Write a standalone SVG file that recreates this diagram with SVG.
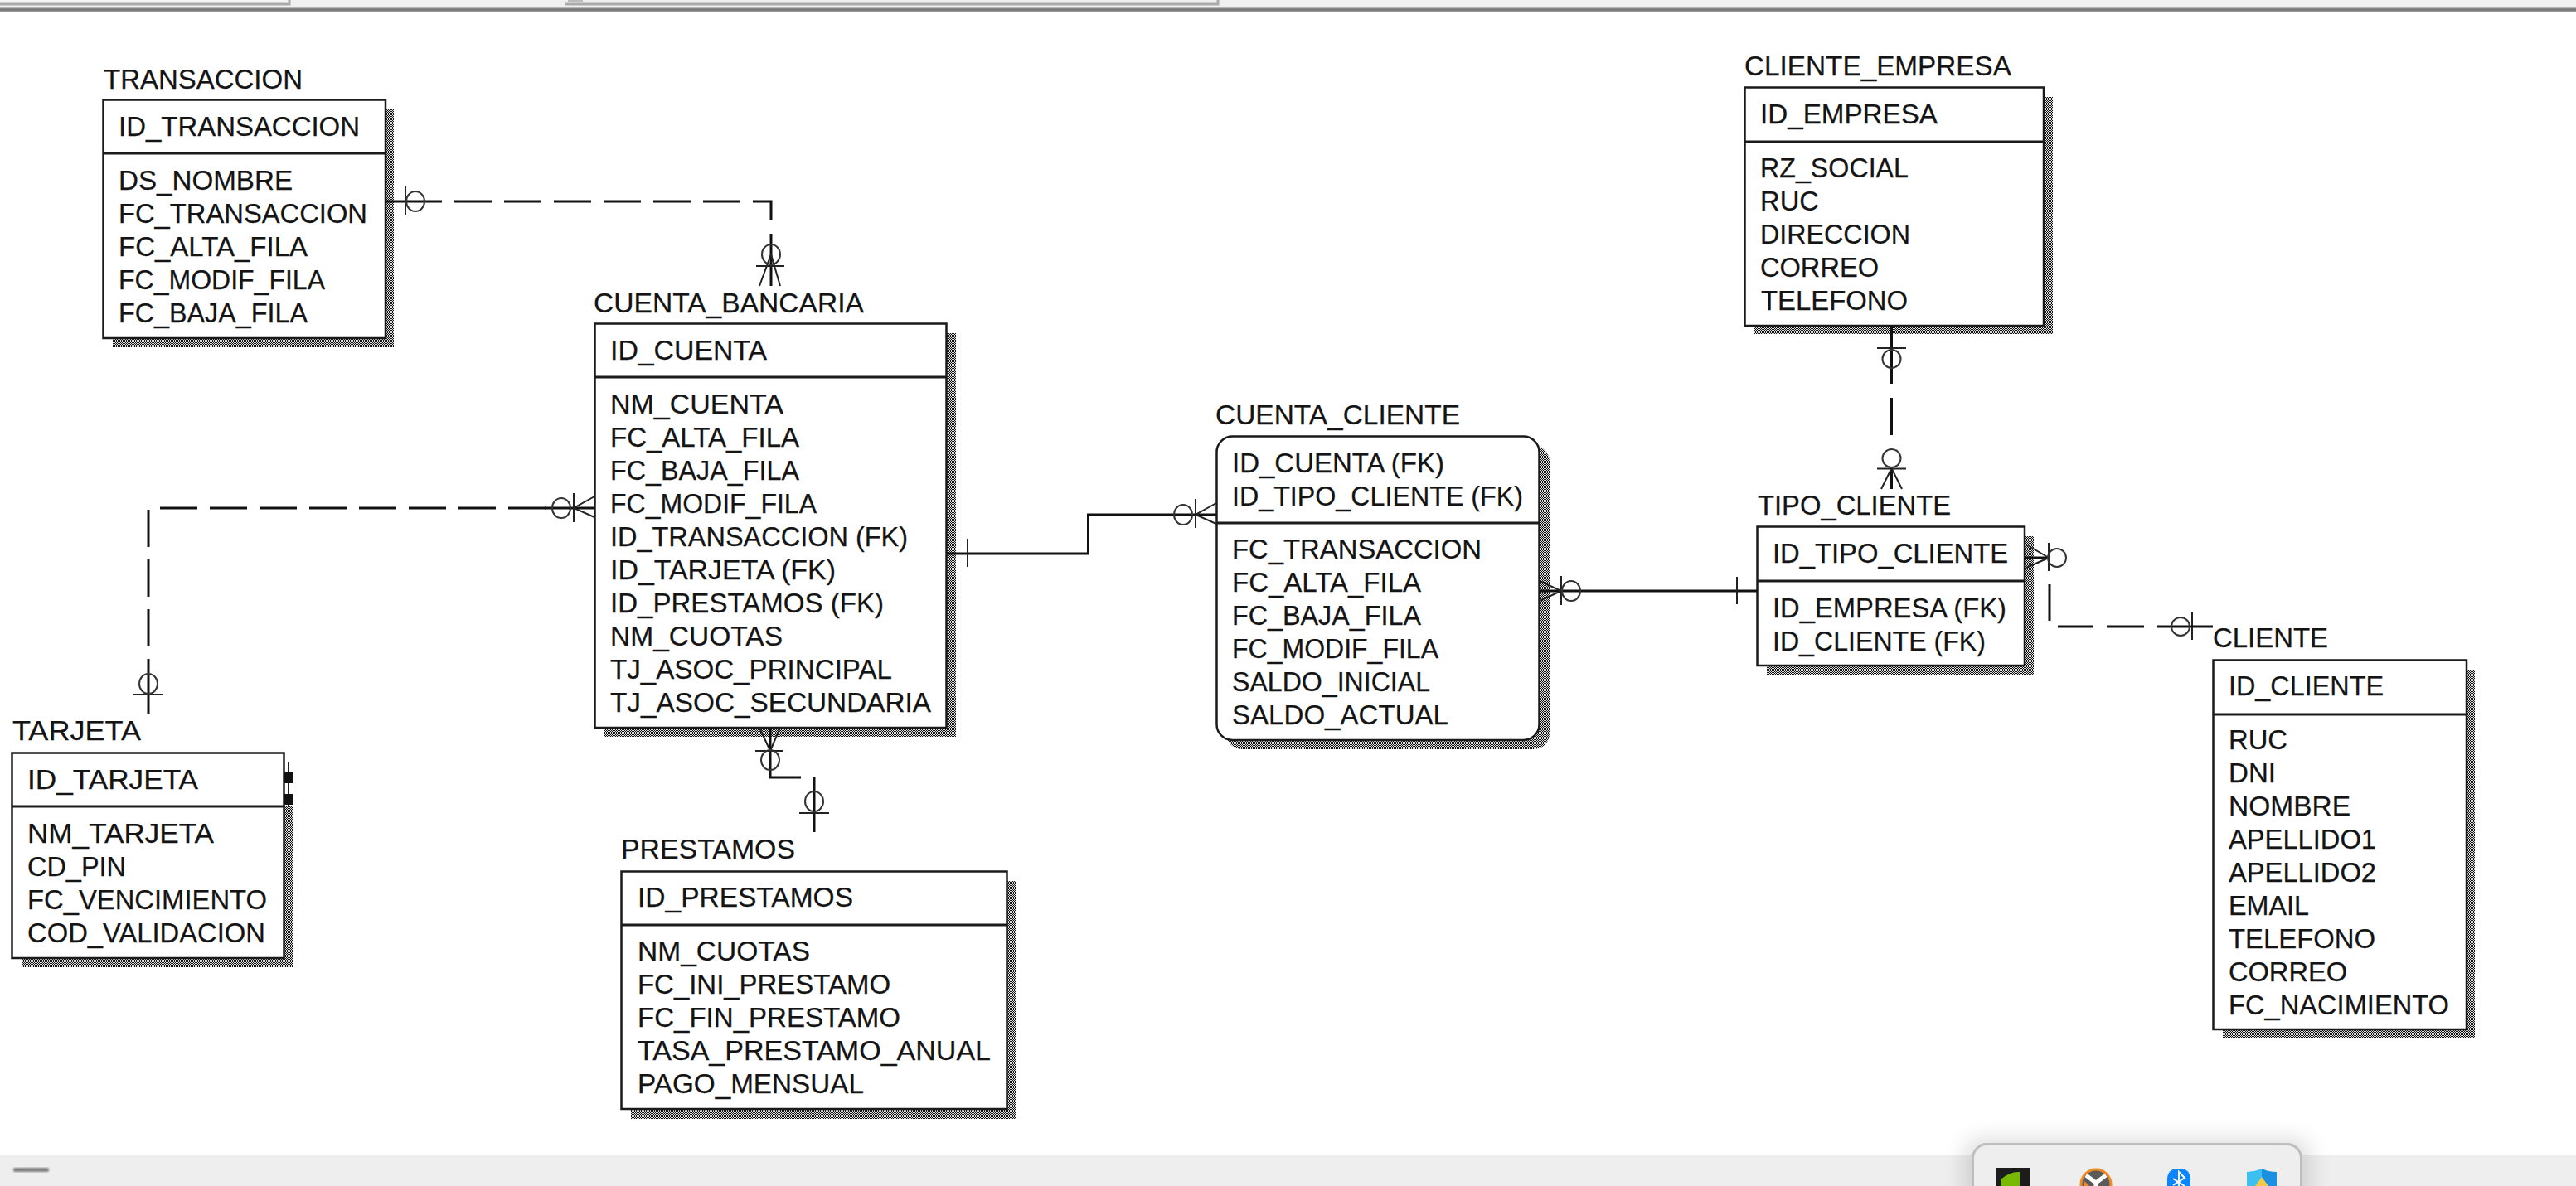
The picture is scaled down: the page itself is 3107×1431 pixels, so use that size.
<svg xmlns="http://www.w3.org/2000/svg" width="3107" height="1431" viewBox="0 0 3107 1431">
<defs>
<style>
text{font-family:"Liberation Sans",Arial,sans-serif;font-size:33px;fill:#141414;stroke:#141414;stroke-width:.25;lengthAdjust:spacingAndGlyphs}
.box{fill:#fff;stroke:#1a1a1a;stroke-width:2.500}
.div{stroke:#1a1a1a;stroke-width:3;fill:none}
.sh{fill:url(#stip)}
.c{fill:none;stroke:#111;stroke-width:3}
.d{fill:none;stroke:#111;stroke-width:3;stroke-dasharray:45 15}
.t{fill:none;stroke:#222;stroke-width:2}
.o{fill:none;stroke:#333;stroke-width:2}
</style>
<pattern id="stip" width="2" height="2" patternUnits="userSpaceOnUse"><rect width="2" height="2" fill="#ddd"/><rect width="1" height="1" fill="#111"/><rect x="1" y="1" width="1" height="1" fill="#111"/></pattern>
<linearGradient id="bar" x1="0" y1="0" x2="0" y2="1"><stop offset="0" stop-color="#c8c8c8"/><stop offset=".35" stop-color="#707070"/><stop offset=".7" stop-color="#8c8c8c"/><stop offset="1" stop-color="#c4c4c4"/></linearGradient>
<filter id="blur" x="-10%" y="-30%" width="120%" height="160%"><feGaussianBlur stdDeviation="14"/></filter>
<filter id="soft"><feGaussianBlur stdDeviation="1"/></filter>
</defs>
<rect width="3107" height="1431" fill="#fff"/>
<g id="window-top">
<rect width="3107" height="9" fill="#f0f0f0"/>
<rect x="0" y="0" width="349" height="4" fill="#f4f4f4"/>
<path d="M0 5H349V0M682 5H1469V0" fill="none" stroke="#aaa" stroke-width="3"/>
<rect x="685" y="0" width="18" height="2" fill="#bbb"/>
<rect y="9" width="3107" height="6" fill="url(#bar)"/>
</g>
<g id="node-transaccion">
<rect class="sh" x="136" y="132" width="339" height="287"/>
<rect class="box" x="124.500" y="120.500" width="340.500" height="287.500"/>
<path class="div" d="M125 185H465"/>
<text x="125" y="107" textLength="240" lengthAdjust="spacingAndGlyphs">TRANSACCION</text>
<text x="143" y="164" textLength="291" lengthAdjust="spacingAndGlyphs">ID_TRANSACCION</text>
<text x="143" y="229" textLength="210" lengthAdjust="spacingAndGlyphs">DS_NOMBRE</text>
<text x="143" y="269" textLength="300" lengthAdjust="spacingAndGlyphs">FC_TRANSACCION</text>
<text x="143" y="309" textLength="228" lengthAdjust="spacingAndGlyphs">FC_ALTA_FILA</text>
<text x="143" y="349" textLength="249" lengthAdjust="spacingAndGlyphs">FC_MODIF_FILA</text>
<text x="143" y="389" textLength="228" lengthAdjust="spacingAndGlyphs">FC_BAJA_FILA</text>
</g>
<g id="node-cuenta-bancaria">
<rect class="sh" x="729" y="402" width="424" height="487"/>
<rect class="box" x="717.500" y="390.500" width="424" height="487.500"/>
<path class="div" d="M718 455H1142"/>
<text x="716" y="377" textLength="326" lengthAdjust="spacingAndGlyphs">CUENTA_BANCARIA</text>
<text x="736" y="434" textLength="189" lengthAdjust="spacingAndGlyphs">ID_CUENTA</text>
<text x="736" y="499" textLength="209" lengthAdjust="spacingAndGlyphs">NM_CUENTA</text>
<text x="736" y="539" textLength="228" lengthAdjust="spacingAndGlyphs">FC_ALTA_FILA</text>
<text x="736" y="579" textLength="228" lengthAdjust="spacingAndGlyphs">FC_BAJA_FILA</text>
<text x="736" y="619" textLength="249" lengthAdjust="spacingAndGlyphs">FC_MODIF_FILA</text>
<text x="736" y="659" textLength="359" lengthAdjust="spacingAndGlyphs">ID_TRANSACCION (FK)</text>
<text x="736" y="699" textLength="272" lengthAdjust="spacingAndGlyphs">ID_TARJETA (FK)</text>
<text x="736" y="739" textLength="330" lengthAdjust="spacingAndGlyphs">ID_PRESTAMOS (FK)</text>
<text x="736" y="779" textLength="208" lengthAdjust="spacingAndGlyphs">NM_CUOTAS</text>
<text x="736" y="819" textLength="340" lengthAdjust="spacingAndGlyphs">TJ_ASOC_PRINCIPAL</text>
<text x="736" y="859" textLength="387" lengthAdjust="spacingAndGlyphs">TJ_ASOC_SECUNDARIA</text>
</g>
<g id="node-cuenta-cliente">
<rect class="sh" x="1479" y="538" width="390" height="366" rx="19"/>
<rect class="box" x="1467.500" y="526.500" width="389" height="366.500" rx="19"/>
<path class="div" d="M1468 631H1856"/>
<text x="1466" y="512" textLength="295" lengthAdjust="spacingAndGlyphs">CUENTA_CLIENTE</text>
<text x="1486" y="570" textLength="256" lengthAdjust="spacingAndGlyphs">ID_CUENTA (FK)</text>
<text x="1486" y="610" textLength="351" lengthAdjust="spacingAndGlyphs">ID_TIPO_CLIENTE (FK)</text>
<text x="1486" y="674" textLength="301" lengthAdjust="spacingAndGlyphs">FC_TRANSACCION</text>
<text x="1486" y="714" textLength="228" lengthAdjust="spacingAndGlyphs">FC_ALTA_FILA</text>
<text x="1486" y="754" textLength="228" lengthAdjust="spacingAndGlyphs">FC_BAJA_FILA</text>
<text x="1486" y="794" textLength="249" lengthAdjust="spacingAndGlyphs">FC_MODIF_FILA</text>
<text x="1486" y="834" textLength="239" lengthAdjust="spacingAndGlyphs">SALDO_INICIAL</text>
<text x="1486" y="874" textLength="261" lengthAdjust="spacingAndGlyphs">SALDO_ACTUAL</text>
</g>
<g id="node-cliente-empresa">
<rect class="sh" x="2116" y="117" width="360" height="286"/>
<rect class="box" x="2104.500" y="105.500" width="360.500" height="287.500"/>
<path class="div" d="M2105 171H2465"/>
<text x="2104" y="91" textLength="322" lengthAdjust="spacingAndGlyphs">CLIENTE_EMPRESA</text>
<text x="2123" y="149" textLength="214" lengthAdjust="spacingAndGlyphs">ID_EMPRESA</text>
<text x="2123" y="214" textLength="179" lengthAdjust="spacingAndGlyphs">RZ_SOCIAL</text>
<text x="2123" y="254" textLength="71" lengthAdjust="spacingAndGlyphs">RUC</text>
<text x="2123" y="294" textLength="181" lengthAdjust="spacingAndGlyphs">DIRECCION</text>
<text x="2123" y="334" textLength="143" lengthAdjust="spacingAndGlyphs">CORREO</text>
<text x="2124" y="374" textLength="177" lengthAdjust="spacingAndGlyphs">TELEFONO</text>
</g>
<g id="node-tipo-cliente">
<rect class="sh" x="2131" y="647" width="322" height="168"/>
<rect class="box" x="2119.500" y="635.500" width="322.500" height="167.500"/>
<path class="div" d="M2120 701H2442"/>
<text x="2120" y="621" textLength="233" lengthAdjust="spacingAndGlyphs">TIPO_CLIENTE</text>
<text x="2138" y="679" textLength="284" lengthAdjust="spacingAndGlyphs">ID_TIPO_CLIENTE</text>
<text x="2138" y="745" textLength="282" lengthAdjust="spacingAndGlyphs">ID_EMPRESA (FK)</text>
<text x="2138" y="785" textLength="257" lengthAdjust="spacingAndGlyphs">ID_CLIENTE (FK)</text>
</g>
<g id="node-cliente">
<rect class="sh" x="2681" y="808" width="304" height="445"/>
<rect class="box" x="2669.500" y="796.500" width="305.500" height="445.500"/>
<path class="div" d="M2670 862H2975"/>
<text x="2669" y="781" textLength="139" lengthAdjust="spacingAndGlyphs">CLIENTE</text>
<text x="2688" y="839" textLength="187" lengthAdjust="spacingAndGlyphs">ID_CLIENTE</text>
<text x="2688" y="904" textLength="71" lengthAdjust="spacingAndGlyphs">RUC</text>
<text x="2688" y="944" textLength="57" lengthAdjust="spacingAndGlyphs">DNI</text>
<text x="2688" y="984" textLength="147" lengthAdjust="spacingAndGlyphs">NOMBRE</text>
<text x="2688" y="1024" textLength="178" lengthAdjust="spacingAndGlyphs">APELLIDO1</text>
<text x="2688" y="1064" textLength="178" lengthAdjust="spacingAndGlyphs">APELLIDO2</text>
<text x="2688" y="1104" textLength="97" lengthAdjust="spacingAndGlyphs">EMAIL</text>
<text x="2688" y="1144" textLength="177" lengthAdjust="spacingAndGlyphs">TELEFONO</text>
<text x="2688" y="1184" textLength="143" lengthAdjust="spacingAndGlyphs">CORREO</text>
<text x="2688" y="1224" textLength="266" lengthAdjust="spacingAndGlyphs">FC_NACIMIENTO</text>
</g>
<g id="node-tarjeta">
<rect class="sh" x="26" y="972" width="327" height="195"/>
<rect class="box" x="14.500" y="908.500" width="328" height="247.500"/>
<path class="div" d="M15 973H342"/>
<text x="15" y="893" textLength="155" lengthAdjust="spacingAndGlyphs">TARJETA</text>
<text x="33" y="952" textLength="206" lengthAdjust="spacingAndGlyphs">ID_TARJETA</text>
<text x="33" y="1017" textLength="225" lengthAdjust="spacingAndGlyphs">NM_TARJETA</text>
<text x="33" y="1057" textLength="119" lengthAdjust="spacingAndGlyphs">CD_PIN</text>
<text x="33" y="1097" textLength="289" lengthAdjust="spacingAndGlyphs">FC_VENCIMIENTO</text>
<text x="33" y="1137" textLength="287" lengthAdjust="spacingAndGlyphs">COD_VALIDACION</text>
</g>
<g id="node-prestamos">
<rect class="sh" x="761" y="1063" width="465" height="287"/>
<rect class="box" x="749.500" y="1051.500" width="465" height="286.500"/>
<path class="div" d="M750 1116H1214"/>
<text x="749" y="1036" textLength="210" lengthAdjust="spacingAndGlyphs">PRESTAMOS</text>
<text x="769" y="1094" textLength="260" lengthAdjust="spacingAndGlyphs">ID_PRESTAMOS</text>
<text x="769" y="1159" textLength="208" lengthAdjust="spacingAndGlyphs">NM_CUOTAS</text>
<text x="769" y="1199" textLength="305" lengthAdjust="spacingAndGlyphs">FC_INI_PRESTAMO</text>
<text x="769" y="1239" textLength="317" lengthAdjust="spacingAndGlyphs">FC_FIN_PRESTAMO</text>
<text x="769" y="1279" textLength="426" lengthAdjust="spacingAndGlyphs">TASA_PRESTAMO_ANUAL</text>
<text x="769" y="1319" textLength="273" lengthAdjust="spacingAndGlyphs">PAGO_MENSUAL</text>
</g>
<g id="connectors">
<g id="rel-transaccion-cuenta">
<path class="c" d="M465 243H533"/>
<path class="d" d="M548 243H930V267"/>
<path class="c" d="M930 282V345"/>
<path class="t" d="M489 225V259M912 321H946M916 345L930 307L941 345"/>
<ellipse class="o" cx="501" cy="243" rx="11" ry="12"/>
<ellipse class="o" cx="930" cy="307" rx="11" ry="12"/>
</g>
<g id="rel-tarjeta-cuenta">
<path class="d" d="M193 613H660"/>
<path class="c" d="M657 613H717"/>
<path class="d" d="M179 615V785"/>
<path class="c" d="M179 795V862"/>
<path class="t" d="M692 595V630M717 599L692 613L717 624M161 838H196"/>
<ellipse class="o" cx="677" cy="613" rx="11" ry="12"/>
<ellipse class="o" cx="179" cy="825" rx="11" ry="12"/>
<path class="t" d="M348 920V972"/>
<rect x="343" y="932" width="10" height="13" fill="#111"/>
<rect x="343" y="958" width="10" height="13" fill="#111"/>
</g>
<g id="rel-cuenta-cuentacliente">
<path class="c" d="M1142 668H1312.500V621H1467"/>
<path class="t" d="M1167 650V684M1442 602V637M1467 607L1442 621L1467 632"/>
<ellipse class="o" cx="1427" cy="621" rx="11" ry="12"/>
</g>
<g id="rel-cuentacliente-tipo">
<path class="c" d="M1857 713H2119"/>
<path class="t" d="M2095 696V729M1883 695V730M1857 701L1883 713L1857 725"/>
<ellipse class="o" cx="1895" cy="713" rx="11" ry="12"/>
</g>
<g id="rel-empresa-tipo">
<path class="c" d="M2281.500 393V463"/>
<path class="c" d="M2281.500 480V525"/>
<path class="c" d="M2281.500 565V590"/>
<path class="t" d="M2264 420H2299M2264 565.500H2299M2269 590L2281.500 565L2294 590"/>
<ellipse class="o" cx="2281.500" cy="433" rx="11" ry="11"/>
<ellipse class="o" cx="2281.500" cy="553" rx="11" ry="11"/>
</g>
<g id="rel-tipo-cliente">
<path class="c" d="M2442 673H2471"/>
<path class="t" d="M2471 655V689M2444 657L2471 673L2444 685M2644 738V772"/>
<ellipse class="o" cx="2481" cy="673" rx="11" ry="11"/>
<path class="c" d="M2472 705V749M2482 756H2525M2541 756H2586M2602 756H2669"/>
<ellipse class="o" cx="2630" cy="756" rx="11" ry="11"/>
</g>
<g id="rel-prestamos-cuenta">
<path class="c" d="M929 878V938H966"/>
<path class="t" d="M911 906H945M916 878L929 906L941 878"/>
<ellipse class="o" cx="929" cy="917" rx="11" ry="12"/>
<path class="c" d="M982 937V1004"/>
<path class="t" d="M964 981H1000"/>
<ellipse class="o" cx="982" cy="967" rx="11" ry="12"/>
</g>
</g>
<g id="window-bottom">
<rect y="1393" width="3107" height="38" fill="#eee"/>
<rect x="16" y="1409" width="43" height="5" rx="2" fill="#808080" filter="url(#soft)"/>
<rect x="2370" y="1375" width="415" height="80" rx="18" fill="#000" opacity=".14" filter="url(#blur)"/>
<rect x="2379.500" y="1380.500" width="396" height="70" rx="17" fill="#eee" stroke="#bdbdbd" stroke-width="3"/>
<rect x="2408" y="1409" width="40" height="22" fill="#1c1c1c"/>
<path d="M2413 1431v-8q12-10 23-9v17z" fill="#76b900"/>
<circle cx="2528" cy="1429" r="18" fill="#5a5a5a" stroke="#f08a24" stroke-width="3"/>
<path d="M2516 1418l12 9 12-9M2528 1427v4" stroke="#fff" stroke-width="5" fill="none"/>
<path d="M2514 1431v-6l6 6z" fill="#f08a24"/>
<path d="M2614 1431v-8q0-13 14-13t14 13v8z" fill="#0a84ff"/>
<path d="M2621 1422l14 9M2628 1431v-17l7 7-14 9" fill="none" stroke="#fff" stroke-width="2"/>
<path d="M2710 1414q10 0 18-4 8 4 18 4v17h-36z" fill="#1b8fe0"/>
<path d="M2710 1414q10 0 18-4v21h-18z" fill="#3cc0f0"/>
<path d="M2728 1420l-8 11h16z" fill="#f6c945"/>
</g>
</svg>
